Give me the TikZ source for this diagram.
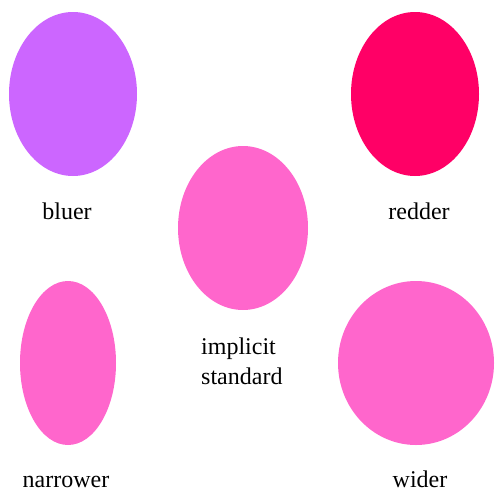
\documentclass[tikz,border=0pt]{standalone}
\usepackage{fontspec}
\setmainfont{Liberation Serif}
\definecolor{cblue}{HTML}{CC66FF}
\definecolor{cred}{HTML}{FF0066}
\definecolor{cstd}{HTML}{FF66CC}
\begin{document}
\begin{tikzpicture}[x=1pt,y=-1pt,
  lbl/.style={font=\fontsize{24}{30}\selectfont, inner sep=0pt, anchor=base}]
\useasboundingbox (0,0) rectangle (495,490);
\fill[cblue] (73,94) ellipse [x radius=64, y radius=82];
\fill[cred] (415,94) ellipse [x radius=64, y radius=82];
\fill[cstd] (243,228) ellipse [x radius=65, y radius=82];
\fill[cstd] (68,363) ellipse [x radius=48, y radius=82];
\fill[cstd] (416,363) ellipse [x radius=78, y radius=82];
\node[lbl] (bluer) at (67,219) {bluer};
\node[lbl] (redder) at (419,219) {redder};
\node[lbl, align=left, anchor=base west] (std) at (201,384) {implicit\\standard};
\node[lbl, text depth=0pt] (narrower) at (66,487) {narrower};
\node[lbl, text depth=0pt] (wider) at (420,487) {wider};
\end{tikzpicture}
\end{document}
